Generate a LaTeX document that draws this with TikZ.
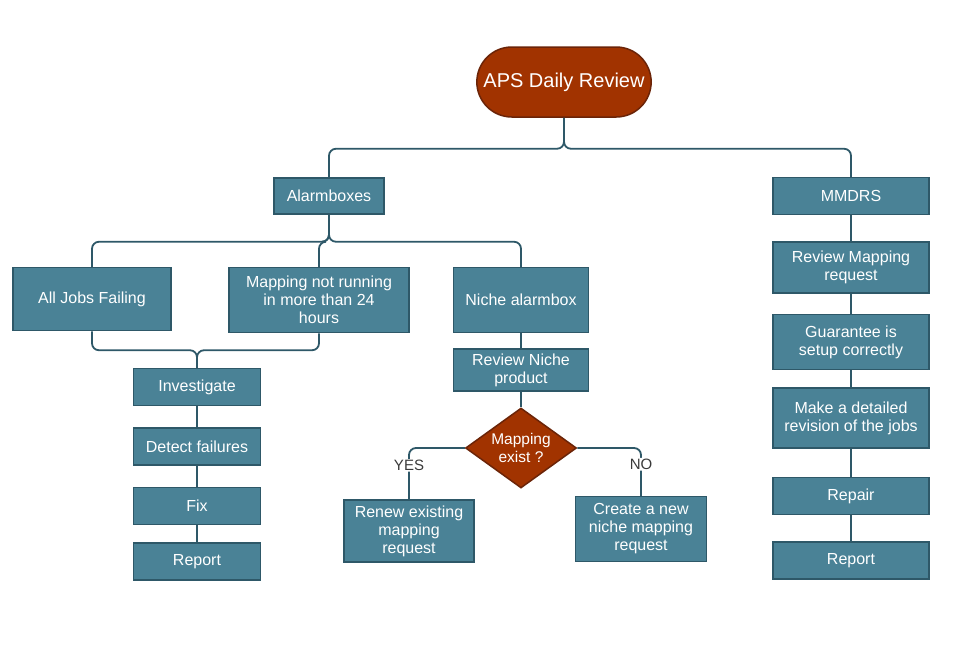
\documentclass[tikz,border=0pt]{standalone}
\usepackage{fontspec}
\setmainfont{Liberation Sans}
\usetikzlibrary{positioning, shapes.geometric, shapes.misc}
\definecolor{boxfill}{HTML}{4A8296}
\definecolor{boxline}{HTML}{2E5868}
\definecolor{pillfill}{HTML}{A13300}
\definecolor{pillline}{HTML}{6B2408}
\definecolor{labelgrey}{HTML}{3A3A3A}
\tikzset{
	box/.style={draw=boxline, fill=boxfill, line width=1.5pt, text=white, align=center,
		font=\fontsize{16}{18}\selectfont, inner sep=2pt},
	pill/.style={rounded rectangle, draw=pillline, fill=pillfill, line width=1.5pt, text=white,
		font=\fontsize{20}{24}\selectfont, minimum width=181pt, minimum height=70pt},
	decision/.style={diamond, draw=pillline, fill=pillfill, line width=1.5pt, text=white, align=center,
		font=\fontsize{15.5}{18}\selectfont, minimum width=111pt, minimum height=80pt,
		inner sep=0pt, aspect=1.39},
	link/.style={draw=boxline, line width=1.8pt, rounded corners=7pt},
	answer/.style={fill=white, text=labelgrey, font=\fontsize{15}{17}\selectfont, inner sep=1pt}
}

\begin{document}
\begin{tikzpicture}
			[x=1pt, y=-1pt, node distance=22pt]
		\useasboundingbox (0,0) rectangle (962,649);
		% nodes %
		\node[pill] (aps) at (564,82) {APS Daily Review};
		\node[box, minimum width=110pt, minimum height=36pt] (alarm) at (329,196) {Alarmboxes};
		\node[box, minimum width=158pt, minimum height=63pt] (alljobs) at (92,299) {All Jobs Failing};
		\node[box, minimum width=180pt, minimum height=65pt] (mapping) at (319,300) {Mapping not running\\in more than 24\\hours};
		\node[box, minimum width=135pt, minimum height=65pt] (niche) at (521,300) {Niche alarmbox};
		\node[box, minimum width=127pt, minimum height=37pt] (invest) at (197,387) {Investigate};
		\node[box, minimum width=127pt, minimum height=37pt, below=21pt of invest] (detect) {Detect failures};
		\node[box, minimum width=127pt, minimum height=37pt, below=21pt of detect] (fix) {Fix};
		\node[box, minimum width=127pt, minimum height=37pt, below=17pt of fix] (reportl) {Report};
		\node[box, minimum width=135pt, minimum height=42pt] (nicheprod) at (521,370) {Review Niche\\product};
		\node[decision] (exist) at (521,448) {Mapping\\exist ?};
		\node[box, minimum width=130pt, minimum height=62pt] (renew) at (409,531) {Renew existing\\mapping\\request};
		\node[box, minimum width=131pt, minimum height=65pt] (create) at (641,529) {Create a new\\niche mapping\\request};
		\node[box, minimum width=156pt, minimum height=37pt] (mmdrs) at (851,196) {MMDRS};
		\node[box, minimum width=156pt, minimum height=51pt, below=26pt of mmdrs] (reviewmap) {Review Mapping\\request};
		\node[box, minimum width=156pt, minimum height=55pt, below=20pt of reviewmap] (guarantee) {Guarantee is\\setup correctly};
		\node[box, minimum width=156pt, minimum height=60pt, below=17pt of guarantee] (revision) {Make a detailed\\revision of the jobs};
		\node[box, minimum width=156pt, minimum height=37pt, below=28pt of revision] (repair) {Repair};
		\node[box, minimum width=156pt, minimum height=37pt, below=26pt of repair] (reportr) {Report};

		% edges %
		\draw[link] (aps.south) -- ++(0,31) -| (alarm.north);
		\draw[link] (aps.south) -- ++(0,31) -| (mmdrs.north);
		\draw[link] (alarm.south) -- ++(0,27) -| (alljobs.north);
		\draw[link] (alarm.south) -- ++(0,27) -| (mapping.north);
		\draw[link] (alarm.south) -- ++(0,27) -| (niche.north);
		\draw[link] (alljobs.south) -- ++(0,19) -| (invest.north);
		\draw[link] (mapping.south) -- ++(0,17) -| (invest.north);
		\draw[link] (invest) -- (detect);
		\draw[link] (detect) -- (fix);
		\draw[link] (fix) -- (reportl);
		\draw[link] (niche) -- (nicheprod);
		\draw[link] (nicheprod) -- (exist);
		\draw[link] (exist.west) -| node[answer, pos=0.67] (yes) {YES} (renew.north);
		\draw[link] (exist.east) -| node[answer, pos=0.67] (no) {NO} (create.north);
		\draw[link] (mmdrs) -- (reviewmap);
		\draw[link] (reviewmap) -- (guarantee);
		\draw[link] (guarantee) -- (revision);
		\draw[link] (revision) -- (repair);
		\draw[link] (repair) -- (reportr);
		\end{tikzpicture}
\end{document}
